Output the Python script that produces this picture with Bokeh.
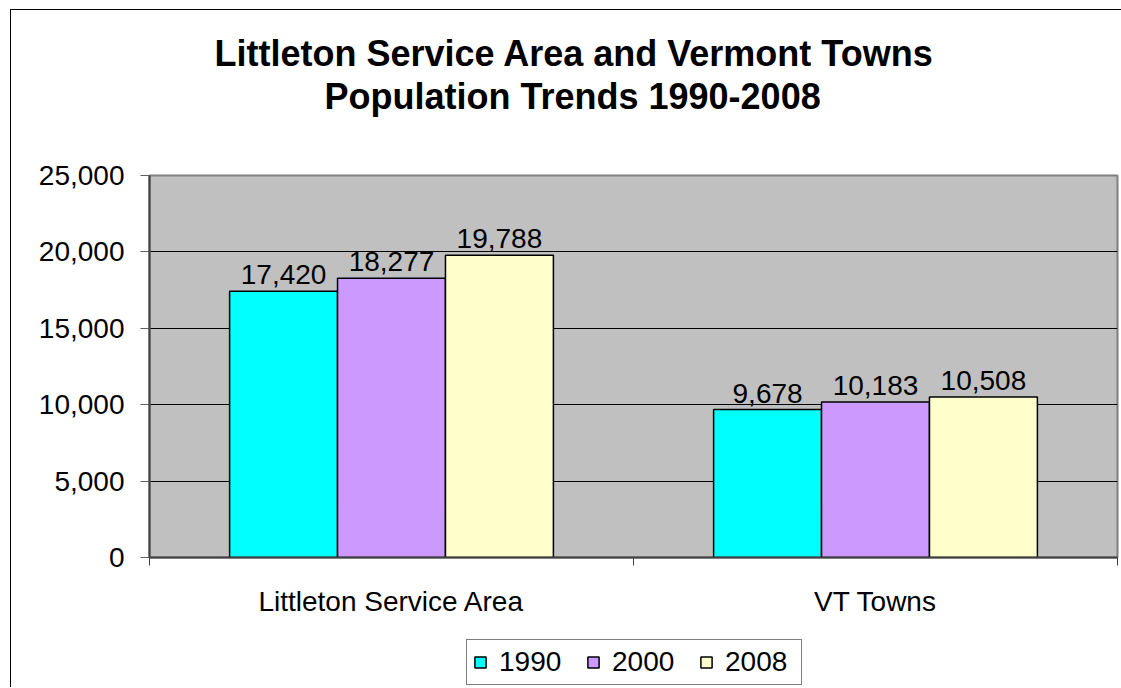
from bokeh.plotting import figure
from bokeh.layouts import column, row
from bokeh.models import Range1d, FixedTicker, NumeralTickFormatter, Title, Legend, LegendItem, Spacer
from bokeh.core.properties import value
from bokeh.embed import file_html
from bokeh.resources import INLINE

categories = ["Littleton Service Area", "VT Towns"]
years = ["1990", "2000", "2008"]
pop_1990 = [17420, 9678]
pop_2000 = [18277, 10183]
pop_2008 = [19788, 10508]
series = [pop_1990, pop_2000, pop_2008]
colors = ["#00FFFF", "#CC99FF", "#FFFFCC"]
y_ticks = [0, 5000, 10000, 15000, 20000, 25000]
title_lines = ["Littleton Service Area and Vermont Towns", "Population Trends 1990-2008"]

FONT = "Liberation Sans"
BAR_W = 0.223

p = figure(frame_width=968, frame_height=382, x_range=Range1d(0, len(categories)),
           y_range=Range1d(0, 25000),
           output_backend="svg", toolbar_location=None, title=None,
           min_border_left=138, min_border_right=4, min_border_top=165, min_border_bottom=80)

p.background_fill_color = "#C0C0C0"
p.border_fill_color = "white"
p.outline_line_color = "#808080"
p.outline_line_width = 2

p.xgrid.visible = False
p.ygrid.ticker = FixedTicker(ticks=y_ticks[1:-1])
p.ygrid.grid_line_color = "black"
p.ygrid.grid_line_width = 1

for i, (vals, col) in enumerate(zip(series, colors)):
    xs = [k + 0.5 + (i - 1) * BAR_W for k in range(len(categories))]
    p.vbar(x=xs, top=vals, width=BAR_W, bottom=0, fill_color=col,
           line_color="black", line_width=1.5)
    p.text(x=xs, y=vals, text=[f"{v:,}" for v in vals], text_align="center",
           text_baseline="bottom", y_offset=-7, text_font=value(FONT),
           text_font_size="28px", text_color="black")

# y axis
ya = p.yaxis[0]
ya.ticker = FixedTicker(ticks=y_ticks)
ya.formatter = NumeralTickFormatter(format="0,0")
ya.major_label_text_font = FONT
ya.major_label_text_font_size = "28px"
ya.major_label_text_color = "black"
ya.major_tick_out = 9
ya.major_tick_in = 0
ya.major_tick_line_color = "#606060"
ya.minor_tick_line_color = None
ya.axis_line_color = "#404040"
ya.axis_line_width = 2
ya.major_label_standoff = 16

# x axis
xa = p.xaxis[0]
xa.ticker = FixedTicker(ticks=[k + 0.5 for k in range(len(categories))],
                        minor_ticks=list(range(len(categories) + 1)))
xa.major_label_overrides = {k + 0.5: c for k, c in enumerate(categories)}
xa.major_label_text_font = FONT
xa.major_label_text_font_size = "28px"
xa.major_label_text_color = "black"
xa.major_tick_line_color = None
xa.major_tick_out = 0
xa.major_tick_in = 0
xa.minor_tick_out = 8
xa.minor_tick_in = 0
xa.minor_tick_line_color = "#404040"
xa.axis_line_color = "#404040"
xa.axis_line_width = 2
xa.major_label_standoff = 20

# title: spacer nearest the frame, then line 2, then line 1
p.add_layout(Title(text=" ", standoff=56, text_font=FONT, text_font_size="1px"), "above")
p.add_layout(Title(text=title_lines[1], align="left", offset=175, standoff=0,
                   text_font=FONT, text_font_style="bold", text_font_size="36px",
                   text_color="black"), "above")
p.add_layout(Title(text=title_lines[0], align="left", offset=65, standoff=0,
                   text_font=FONT, text_font_style="bold", text_font_size="36px",
                   text_color="black"), "above")

# legend in its own small figure below the chart; proxy glyphs hidden under the legend box
p_leg = figure(width=346, height=50, x_range=Range1d(0, 1), y_range=Range1d(-1, 1),
               x_axis_type=None, y_axis_type=None, output_backend="svg",
               toolbar_location=None, title=None, min_border=0)
p_leg.grid.visible = False
p_leg.outline_line_color = None
p_leg.background_fill_color = "white"
p_leg.border_fill_color = "white"
leg_renderers = []
for col in colors:
    leg_renderers.append(p_leg.vbar(x=[0.5], top=[0], bottom=[0], width=0.0,
                                    fill_color=col, line_color="black", line_width=1.5))

legend = Legend(items=[LegendItem(label=y, renderers=[r]) for y, r in zip(years, leg_renderers)],
                orientation="horizontal", location="center")
legend.label_text_font = FONT
legend.label_text_font_size = "28px"
legend.label_text_color = "black"
legend.glyph_width = 14
legend.glyph_height = 14
legend.label_standoff = 12
legend.label_width = 70
legend.spacing = 17
legend.padding = 6
legend.margin = 0
legend.border_line_color = "black"
legend.border_line_width = 1
legend.background_fill_color = "white"
legend.background_fill_alpha = 1
p_leg.add_layout(legend)

layout = column(p, row(Spacer(width=450, height=50), p_leg),
                styles={"border-left": "1px solid black", "border-top": "1px solid black",
                        "margin-left": "10px", "margin-top": "9px"})

open("out.html", "w").write(file_html(layout, INLINE))
